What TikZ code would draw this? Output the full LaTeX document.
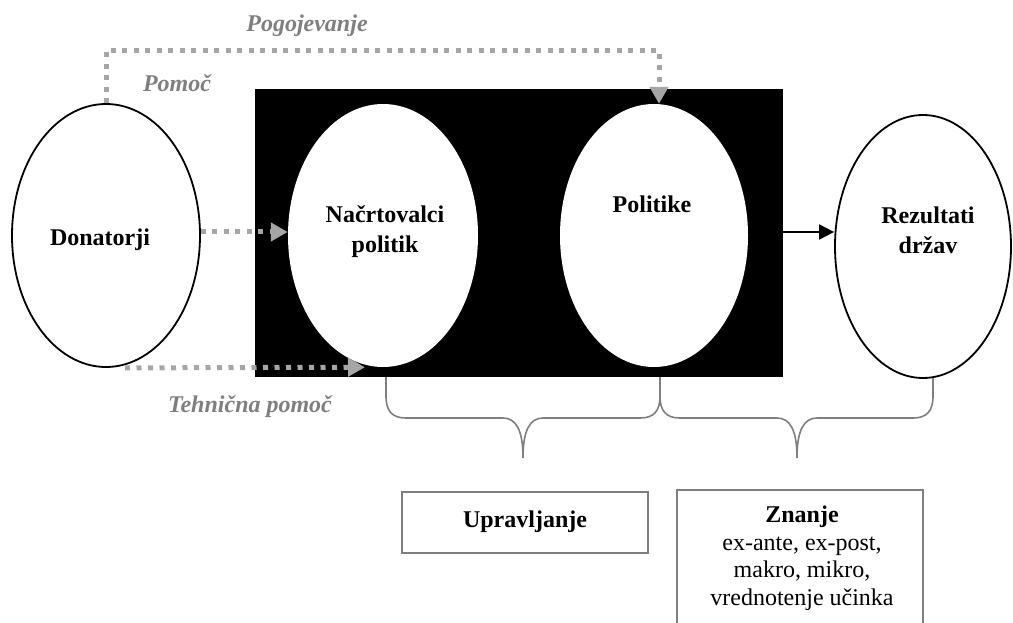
\documentclass[tikz,border=0pt]{standalone}
\usepackage{fontspec}
\setmainfont{Liberation Serif}
\usetikzlibrary{shapes.geometric,arrows.meta,calc}

\definecolor{dotgray}{HTML}{A6A6A6}
\definecolor{labgray}{HTML}{7F7F7F}

\tikzset{
  oval/.style={ellipse, inner sep=0pt, minimum width=#1},
  outlined/.style={draw=black, line width=1.8pt, fill=white},
  inblack/.style={draw=none, fill=white},
  txt/.style={font=\fontsize{24}{30}\selectfont\bfseries, align=center, anchor=base, inner sep=0pt},
  plain/.style={font=\fontsize{24}{27.5}\selectfont, align=center, anchor=base, inner sep=0pt},
  glabel/.style={font=\fontsize{24}{27}\selectfont\bfseries\itshape, text=labgray, anchor=base, inner sep=0pt},
  dotline/.style={draw=dotgray, line width=5pt, dash pattern=on 5pt off 6.5pt,
    -{Triangle[length=17pt,width=18pt,fill=dotgray]}},
  solidarrow/.style={draw=black, line width=2pt, -{Triangle[length=15pt,width=15pt]}},
  brace/.style={draw=labgray, line width=1.6pt},
  infobox/.style={draw=labgray, line width=2pt, fill=white}
}

\begin{document}
\begin{tikzpicture}[x=1pt, y=-1pt]
  \useasboundingbox (0,0) rectangle (1013,623);
  \clip (0,0) rectangle (1013,623);

  % black backdrop behind the two inner ovals
  \fill[black] (255,89) rectangle (783,377);

  % ovals
  \node[oval=188pt, minimum height=263pt, outlined] (don) at (106,235.5) {};
  \node[oval=190pt, minimum height=263pt, inblack] (nac) at (383,235.5) {};
  \node[oval=188pt, minimum height=263pt, inblack] (pol) at (654,235.5) {};
  \node[oval=176pt, minimum height=263pt, outlined] (rez) at (923,246.5) {};

  % oval texts (base anchor = baseline of the last line)
  \node[txt] (tdon) at (100,245) {Donatorji};
  \node[txt] (tnac) at (385,252) {Načrtovalci\\politik};
  \node[txt] (tpol) at (652,212) {Politike};
  \node[txt] (trez) at (928,253) {Rezultati\\držav};

  % level of the horizontal links
  \coordinate (lvl) at (0,232);

  % solid links
  \draw[black, line width=2pt] (nac.east |- lvl) -- (pol.west |- lvl);
  \draw[solidarrow] (pol.east |- lvl) -- (rez.west |- lvl);

  % dotted donor links
  \draw[dotline] (don.north) -- ++(0,-53) -| ($(pol.north)+(5,0)$);
  \draw[dotline] (don.east |- lvl) -- (nac.west |- lvl);
  \draw[dotline] ($(don.south)+(19,0)$) -- ($(nac.south)+(-18,0)$);

  % grey link labels
  \node[glabel] (lpog) at (307,32) {Pogojevanje};
  \node[glabel] (lpom) at (177,92) {Pomoč};
  \node[glabel] (lteh) at (250,412) {Tehnična pomoč};

  % curly braces under the chain
  \draw[brace] (386,377) -- (386,396)
    .. controls (386,411) and (392,418) .. (406,418) -- (503,418)
    .. controls (516,418) and (523,430) .. (523,458)
    .. controls (523,430) and (530,418) .. (543,418) -- (640,418)
    .. controls (654,418) and (660,411) .. (660,396) -- (660,377);
  \draw[brace] (660,377) -- (660,396)
    .. controls (660,411) and (666,418) .. (680,418) -- (777,418)
    .. controls (790,418) and (797,430) .. (797,458)
    .. controls (797,430) and (804,418) .. (817,418) -- (913,418)
    .. controls (927,418) and (933,411) .. (933,396) -- (933,378);

  % boxes
  \draw[infobox] (402,492) rectangle (648,553);
  \node[txt] (tupr) at (525,527) {Upravljanje};
  \draw[infobox] (677,490) rectangle (923,660);
  \node[txt] (tznn) at (802,522) {Znanje};
  \node[plain] (tznl) at (802,605) {ex-ante, ex-post,\\makro, mikro,\\vrednotenje učinka};
\end{tikzpicture}
\end{document}
